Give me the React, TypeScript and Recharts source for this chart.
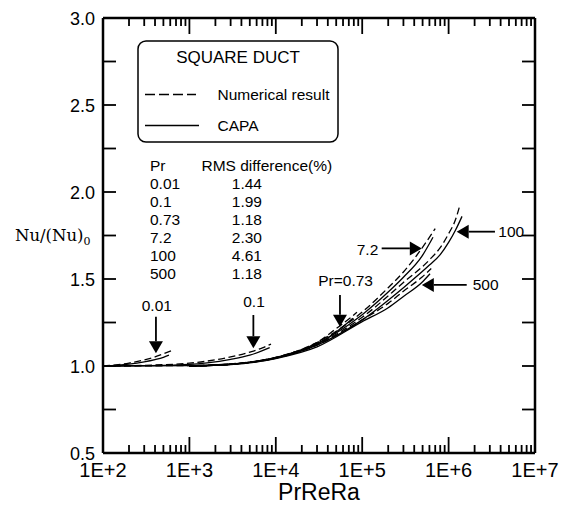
import { LineChart, Line, XAxis, YAxis, ReferenceLine } from "recharts";

const W = 567;
const H = 506;
const SANS = "'Liberation Sans', Arial, sans-serif";
const SERIF = "'DejaVu Serif', 'Liberation Serif', serif";

// Pr = 0.01
const pr001NumX = [100, 150, 200, 300, 400, 500, 620];
const pr001NumY = [1.0, 1.008, 1.017, 1.035, 1.052, 1.07, 1.088];
const pr001CapaX = [100, 150, 200, 300, 400, 500, 580];
const pr001CapaY = [1.0, 1.005, 1.011, 1.024, 1.037, 1.05, 1.062];

// Pr = 0.1
const pr01NumX = [100, 300, 1000, 1600, 3000, 5000, 7000, 8800];
const pr01NumY = [1.0, 1.004, 1.016, 1.028, 1.052, 1.08, 1.104, 1.126];
const pr01CapaX = [100, 300, 1000, 1600, 3000, 5000, 7000, 8500];
const pr01CapaY = [1.0, 1.002, 1.009, 1.018, 1.038, 1.062, 1.088, 1.106];

// Pr = 0.73
const pr073NumX = [100, 1000, 3000, 10000, 20000, 30000, 50000, 70000, 87000];
const pr073NumY = [1.0, 1.003, 1.012, 1.05, 1.095, 1.135, 1.215, 1.27, 1.309];
const pr073CapaX = [100, 1000, 3000, 10000, 20000, 30000, 50000, 78000];
const pr073CapaY = [1.0, 1.002, 1.01, 1.047, 1.09, 1.125, 1.195, 1.274];

// Pr = 7.2
const pr72NumX = [1000, 3000, 10000, 30000, 50000, 100000, 200000, 300000, 490000, 700000];
const pr72NumY = [1.0, 1.01, 1.05, 1.135, 1.2, 1.31, 1.45, 1.54, 1.676, 1.79];
const pr72CapaX = [1000, 3000, 10000, 30000, 50000, 100000, 200000, 300000, 490000, 660000];
const pr72CapaY = [1.0, 1.01, 1.048, 1.13, 1.19, 1.295, 1.425, 1.51, 1.63, 1.74];

// Pr = 100
const pr100NumX = [1000, 3000, 10000, 30000, 100000, 300000, 600000, 800000, 1000000, 1200000, 1360000];
const pr100NumY = [1.0, 1.01, 1.047, 1.125, 1.28, 1.48, 1.61, 1.68, 1.76, 1.84, 1.93];
const pr100CapaX = [1000, 3000, 10000, 30000, 100000, 300000, 600000, 800000, 1000000, 1200000, 1430000];
const pr100CapaY = [1.0, 1.01, 1.045, 1.12, 1.265, 1.45, 1.58, 1.64, 1.71, 1.78, 1.86];

// Pr = 500
const pr500NumX = [1000, 3000, 10000, 30000, 100000, 200000, 300000, 490000, 630000];
const pr500NumY = [1.0, 1.01, 1.045, 1.12, 1.265, 1.36, 1.43, 1.51, 1.56];
const pr500CapaX = [1000, 3000, 10000, 30000, 100000, 200000, 300000, 490000, 610000];
const pr500CapaY = [1.0, 1.008, 1.043, 1.11, 1.255, 1.335, 1.4, 1.48, 1.53];

const prLabels = ["0.01", "0.1", "0.73", "7.2", "100", "500"];
const rmsLabels = ["1.44", "1.99", "1.18", "2.30", "4.61", "1.18"];

const xMajorTicks = [1e2, 1e3, 1e4, 1e5, 1e6, 1e7];
const yTicks = [0.5, 0.75, 1.0, 1.25, 1.5, 1.75, 2.0, 2.25, 2.5, 2.75, 3.0];

// arrows: [x1, y1, x2 (tip), y2 (tip)]
const arrows: [number, number, number, number][] = [
  [410, 1.283, 410, 1.073],
  [5500, 1.293, 5500, 1.102],
  [55300, 1.408, 55300, 1.226],
  [168000, 1.676, 490000, 1.676],
  [3440000, 1.772, 1240000, 1.772],
  [1620000, 1.466, 490000, 1.466],
];

const pts = (xs: number[], ys: number[]) => xs.map((x, i) => ({ x, y: ys[i] }));

const series = [
  { id: "n001", data: pts(pr001NumX, pr001NumY), dashed: true },
  { id: "c001", data: pts(pr001CapaX, pr001CapaY), dashed: false },
  { id: "n01", data: pts(pr01NumX, pr01NumY), dashed: true },
  { id: "c01", data: pts(pr01CapaX, pr01CapaY), dashed: false },
  { id: "n073", data: pts(pr073NumX, pr073NumY), dashed: true },
  { id: "c073", data: pts(pr073CapaX, pr073CapaY), dashed: false },
  { id: "n72", data: pts(pr72NumX, pr72NumY), dashed: true },
  { id: "c72", data: pts(pr72CapaX, pr72CapaY), dashed: false },
  { id: "n100", data: pts(pr100NumX, pr100NumY), dashed: true },
  { id: "c100", data: pts(pr100CapaX, pr100CapaY), dashed: false },
  { id: "n500", data: pts(pr500NumX, pr500NumY), dashed: true },
  { id: "c500", data: pts(pr500CapaX, pr500CapaY), dashed: false },
];

const xTicks: number[] = [];
xMajorTicks.forEach((m, i) => {
  xTicks.push(m);
  if (i < xMajorTicks.length - 1) for (let k = 2; k <= 9; k++) xTicks.push(m * k);
});

const isMajor = (v: number) => {
  const e = Math.log10(v);
  return Math.abs(e - Math.round(e)) < 1e-6;
};

function BottomTick(props: any) {
  const { x, y, payload } = props;
  const v = payload.value;
  const major = isMajor(v);
  return (
    <g>
      <line x1={x} x2={x} y1={y} y2={y - (major ? 16 : 8)} stroke="#000" strokeWidth={1.8} />
      {major && (
        <text x={x} y={y + 24} textAnchor="middle" fontSize={20} fontFamily={SANS} fill="#000">
          {"1E+" + Math.round(Math.log10(v))}
        </text>
      )}
    </g>
  );
}

function TopTick(props: any) {
  const { x, y, payload } = props;
  const major = isMajor(payload.value);
  return <line x1={x} x2={x} y1={y} y2={y + (major ? 16 : 8)} stroke="#000" strokeWidth={1.8} />;
}

function LeftTick(props: any) {
  const { x, y, payload } = props;
  const v = payload.value;
  const labeled = Math.abs(v * 2 - Math.round(v * 2)) < 1e-6;
  return (
    <g>
      <line x1={x} x2={x + 13} y1={y} y2={y} stroke="#000" strokeWidth={1.8} />
      {labeled && (
        <text x={x - 8} y={y + 6.5} textAnchor="end" fontSize={18} fontFamily={SANS} fill="#000">
          {v.toFixed(1)}
        </text>
      )}
    </g>
  );
}

function RightTick(props: any) {
  const { x, y } = props;
  return <line x1={x} x2={x - 13} y1={y} y2={y} stroke="#000" strokeWidth={1.8} />;
}

function Arrow(props: any) {
  const { x1, y1, x2, y2 } = props;
  const dx = x2 - x1;
  const dy = y2 - y1;
  const len = Math.sqrt(dx * dx + dy * dy) || 1;
  const ux = dx / len;
  const uy = dy / len;
  const hl = 12;
  const hw = 7;
  const bx = x2 - ux * hl;
  const by = y2 - uy * hl;
  const head = `${x2},${y2} ${bx - uy * hw},${by + ux * hw} ${bx + uy * hw},${by - ux * hw}`;
  return (
    <g>
      <line x1={x1} y1={y1} x2={bx} y2={by} stroke="#000" strokeWidth={1.8} />
      <polygon points={head} fill="#000" />
    </g>
  );
}

export default function App() {
  const txt = { fontFamily: SANS, fill: "#000" };
  return (
    <div style={{ position: "absolute", left: 0, top: 0, width: W, height: H, background: "#fff" }}>
      <LineChart width={W} height={H} margin={{ top: 17, right: 31, bottom: 23, left: 53 }}>
        <XAxis
          xAxisId="b"
          dataKey="x"
          type="number"
          scale="log"
          domain={[100, 1e7]}
          allowDataOverflow
          ticks={xTicks}
          interval={0}
          height={30}
          tickSize={0}
          tickMargin={0}
          tickLine={false}
          axisLine={{ stroke: "#000", strokeWidth: 2.5 }}
          tick={<BottomTick />}
        />
        <XAxis
          xAxisId="t"
          orientation="top"
          dataKey="x"
          type="number"
          scale="log"
          domain={[100, 1e7]}
          allowDataOverflow
          ticks={xTicks}
          interval={0}
          height={1}
          tickSize={0}
          tickMargin={0}
          tickLine={false}
          axisLine={{ stroke: "#000", strokeWidth: 2.5 }}
          tick={<TopTick />}
        />
        <YAxis
          yAxisId="l"
          type="number"
          domain={[0.5, 3]}
          allowDataOverflow
          ticks={yTicks}
          interval={0}
          width={50}
          tickSize={0}
          tickMargin={0}
          tickLine={false}
          axisLine={{ stroke: "#000", strokeWidth: 2.5 }}
          tick={<LeftTick />}
        />
        <YAxis
          yAxisId="r"
          orientation="right"
          type="number"
          domain={[0.5, 3]}
          allowDataOverflow
          ticks={yTicks}
          interval={0}
          width={1}
          tickSize={0}
          tickMargin={0}
          tickLine={false}
          axisLine={{ stroke: "#000", strokeWidth: 2.5 }}
          tick={<RightTick />}
        />
        {series.map((s) => (
          <Line
            key={s.id}
            xAxisId="b"
            yAxisId="l"
            data={s.data}
            dataKey="y"
            type="monotone"
            stroke="#000"
            strokeWidth={1.3}
            strokeDasharray={s.dashed ? "7 3.5" : undefined}
            dot={false}
            activeDot={false}
            isAnimationActive={false}
          />
        ))}
        {arrows.map((a, i) => (
          <ReferenceLine
            key={"arrow" + i}
            xAxisId="b"
            yAxisId="l"
            segment={[
              { x: a[0], y: a[1] },
              { x: a[2], y: a[3] },
            ]}
            ifOverflow="visible"
            shape={<Arrow />}
          />
        ))}
      </LineChart>
      <svg
        width={W}
        height={H}
        style={{ position: "absolute", left: 0, top: 0, pointerEvents: "none" }}
      >
        <rect x={138} y={41} width={200} height={101} rx={8} fill="none" stroke="#000" strokeWidth={1.5} />
        <text x={238} y={63} textAnchor="middle" fontSize={17} {...txt}>SQUARE DUCT</text>
        <line x1={145} x2={196} y1={94.5} y2={94.5} stroke="#000" strokeWidth={1.3} strokeDasharray="10 4" />
        <text x={217.5} y={100} fontSize={15.5} {...txt}>Numerical result</text>
        <line x1={145} x2={199} y1={125.5} y2={125.5} stroke="#000" strokeWidth={1.3} />
        <text x={217.5} y={130.5} fontSize={15.5} {...txt}>CAPA</text>

        <text x={150} y={171} fontSize={15.5} {...txt}>Pr</text>
        <text x={201.5} y={171} fontSize={15.5} {...txt}>RMS difference(%)</text>
        {prLabels.map((p, i) => (
          <text key={"pr" + i} x={150} y={189.3 + i * 18.02} fontSize={15.5} {...txt}>{p}</text>
        ))}
        {rmsLabels.map((r, i) => (
          <text key={"rms" + i} x={231.8} y={189.3 + i * 18.02} fontSize={15.5} {...txt}>{r}</text>
        ))}

        <text x={156.8} y={311} textAnchor="middle" fontSize={15.5} {...txt}>0.01</text>
        <text x={254} y={306.7} textAnchor="middle" fontSize={15.5} {...txt}>0.1</text>
        <text x={345.6} y={286} textAnchor="middle" fontSize={15.5} {...txt}>Pr=0.73</text>
        <text x={378.3} y={255} textAnchor="end" fontSize={15.5} {...txt}>7.2</text>
        <text x={498.3} y={237.3} fontSize={15.5} {...txt}>100</text>
        <text x={472.7} y={290} fontSize={15.5} {...txt}>500</text>

        <text x={319} y={500} textAnchor="middle" fontSize={23} {...txt}>PrReRa</text>
        <text x={15} y={241} fontSize={16.5} fontFamily={SERIF} fill="#000">
          Nu/(Nu)
          <tspan fontSize={11} dy={4}>0</tspan>
        </text>
      </svg>
    </div>
  );
}
